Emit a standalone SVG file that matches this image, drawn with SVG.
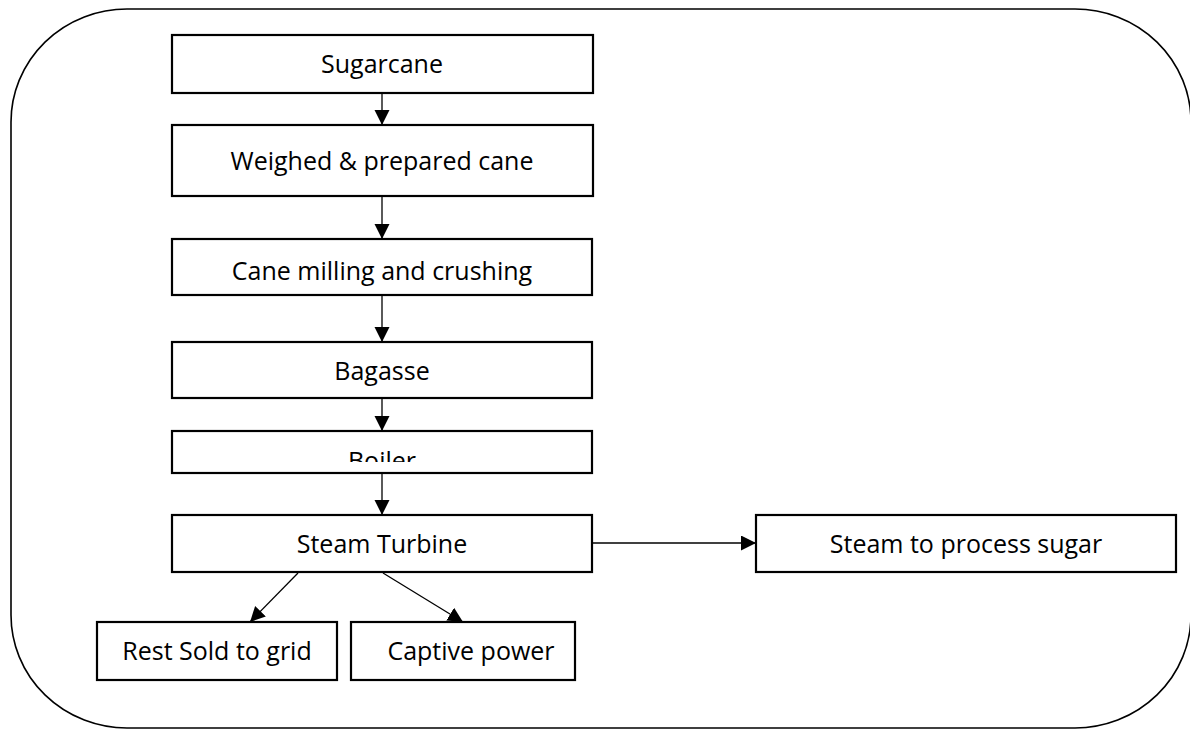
<svg xmlns="http://www.w3.org/2000/svg" width="1190" height="731" viewBox="0 0 1190 731">
<style>
.box{fill:#fff;stroke:#000;stroke-width:2.2}
.lbl{font-family:"Open Sans","Liberation Sans",sans-serif;font-size:25px;fill:#000;text-anchor:middle}
.con{stroke:#000;stroke-width:1.3;fill:none;marker-end:url(#ah)}
</style>
<defs>
<marker id="ah" markerUnits="userSpaceOnUse" markerWidth="16" markerHeight="16" refX="15" refY="7.5" orient="auto">
<path d="M0,0 L15,7.5 L0,15 z" fill="#000"/>
</marker>
<clipPath id="boilerClip"><rect x="172" y="431" width="420" height="31"/></clipPath>
</defs>
<rect width="1190" height="731" fill="#fff"/>
<rect id="frame" x="11" y="9" width="1180" height="719" rx="116" ry="113" fill="none" stroke="#000" stroke-width="1.6"/>
<g id="connectors">
<line class="con" x1="382" y1="93" x2="382" y2="125"/>
<line class="con" x1="382" y1="196" x2="382" y2="239"/>
<line class="con" x1="382" y1="295" x2="382" y2="342"/>
<line class="con" x1="382" y1="398" x2="382" y2="431"/>
<line class="con" x1="382" y1="473" x2="382" y2="515"/>
<line class="con" x1="592" y1="543" x2="756" y2="543"/>
<line class="con" x1="298" y1="573" x2="250" y2="622"/>
<line class="con" x1="383" y1="573" x2="463" y2="622"/>
</g>
<g id="sugarcane"><rect class="box" x="172" y="35" width="421" height="58"/><text class="lbl" x="382" y="73">Sugarcane</text></g>
<g id="weighed"><rect class="box" x="172" y="125" width="421" height="71"/><text class="lbl" x="382" y="170">Weighed &amp; prepared cane</text></g>
<g id="milling"><rect class="box" x="172" y="239" width="420" height="56"/><text class="lbl" x="382" y="280">Cane milling and crushing</text></g>
<g id="bagasse"><rect class="box" x="172" y="342" width="420" height="56"/><text class="lbl" x="382" y="380">Bagasse</text></g>
<g id="boiler"><rect class="box" x="172" y="431" width="420" height="42"/><text class="lbl" x="382" y="470" clip-path="url(#boilerClip)">Boiler</text></g>
<g id="turbine"><rect class="box" x="172" y="515" width="420" height="57"/><text class="lbl" x="382" y="553">Steam Turbine</text></g>
<g id="process"><rect class="box" x="756" y="515" width="420" height="57"/><text class="lbl" x="966" y="553">Steam to process sugar</text></g>
<g id="grid"><rect class="box" x="97" y="622" width="240" height="58"/><text class="lbl" x="217" y="660">Rest Sold to grid</text></g>
<g id="captive"><rect class="box" x="351" y="622" width="224" height="58"/><text class="lbl" x="471" y="660">Captive power</text></g>
</svg>
